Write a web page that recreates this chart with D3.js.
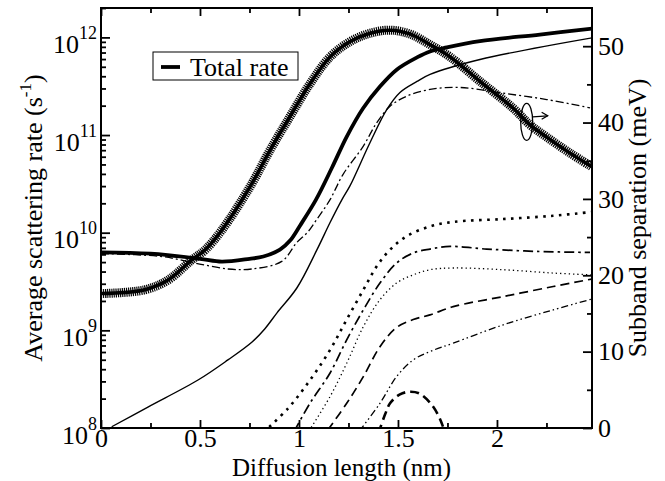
<!DOCTYPE html>
<html>
<head>
<meta charset="utf-8">
<script src="https://cdn.jsdelivr.net/npm/d3@7"></script>
<style>
body{margin:0;background:#fff}
</style>
</head>
<body>
<svg id="drawing_region"></svg>
<script>
const FONT = '"Liberation Serif"'

// axis ticks
const x_ticks = [0, 0.5, 1, 1.5, 2]
const x_minor = [0.25, 0.75, 1.25, 1.75, 2.25]
const rate_ticks = [1e8, 1e9, 1e10, 1e11, 1e12]
const sep_ticks = [0, 10, 20, 30, 40, 50]
const sep_minor = [5, 15, 25, 35, 45]

// total rate (thick solid), s^-1
const total_x = [0, 0.25, 0.5, 0.61, 0.75, 0.82, 0.904, 0.955, 1.005, 1.086, 1.167, 1.242, 1.323, 1.409, 1.495, 1.596, 1.662, 1.747, 1.914, 2.217, 2.48]
const total_rate = [6.3e9, 6.1e9, 5.4e9, 5.05e9, 5.4e9, 5.7e9, 6.7e9, 8.3e9, 1.18e10, 2.18e10, 4.65e10, 9.7e10, 1.87e11, 3.14e11, 4.7e11, 6.24e11, 7.18e11, 7.9e11, 9.16e11, 1.07e12, 1.23e12]

// thin solid
const solid_x = [0.054, 0.237, 0.49, 0.641, 0.763, 0.828, 0.889, 0.99, 1.091, 1.157, 1.217, 1.258, 1.359, 1.444, 1.51, 1.596, 1.662, 1.914, 2.48]
const solid_rate = [1.03e8, 1.64e8, 3.1e8, 4.98e8, 7.6e8, 1.04e9, 1.51e9, 2.73e9, 6.7e9, 1.27e10, 2.18e10, 3.03e10, 8.4e10, 1.83e11, 2.73e11, 3.54e11, 4.18e11, 5.94e11, 9.9e11]

// thin dash-dot
const dashdot_x = [0, 0.307, 0.475, 0.641, 0.761, 0.913, 0.988, 1.045, 1.089, 1.157, 1.222, 1.325, 1.392, 1.46, 1.544, 1.662, 1.813, 2.015, 2.251, 2.47]
const dashdot_rate = [6.1e9, 5.7e9, 4.89e9, 4.25e9, 4.25e9, 5.08e9, 7.9e9, 1.02e10, 1.36e10, 2.18e10, 3.94e10, 7.7e10, 1.33e11, 1.97e11, 2.5e11, 2.93e11, 3.07e11, 2.71e11, 2.31e11, 1.9e11]

// subband separation (crosses), meV
const sep_x = [0, 0.222, 0.34, 0.458, 0.525, 0.61, 0.753, 0.854, 0.955, 1.056, 1.157, 1.258, 1.359, 1.46, 1.56, 1.662, 1.763, 1.914, 2.081, 2.167, 2.251, 2.369, 2.48]
const sep_mev = [17.6, 18.1, 19.4, 22.0, 23.3, 25.9, 31.6, 36.4, 40.8, 45.1, 48.6, 50.6, 51.7, 52.1, 51.6, 50.2, 48.6, 45.4, 41.9, 39.7, 38.1, 36.0, 34.2]

// lower curves
const bigdot_x = [0.82, 0.946, 1.056, 1.157, 1.241, 1.325, 1.392, 1.46, 1.544, 1.662, 1.779, 2.032, 2.284, 2.478]
const bigdot_rate = [9e7, 1.6e8, 3.1e8, 6.3e8, 1.29e9, 2.6e9, 4.5e9, 6.7e9, 9.2e9, 1.16e10, 1.29e10, 1.38e10, 1.49e10, 1.63e10]

const dashdot2_x = [0.975, 1.056, 1.157, 1.241, 1.325, 1.409, 1.493, 1.577, 1.662, 1.763, 1.948, 2.2, 2.47]
const dashdot2_rate = [9.2e7, 1.8e8, 3.66e8, 8.0e8, 1.62e9, 3.05e9, 4.89e9, 6.2e9, 6.8e9, 7.24e9, 6.8e9, 6.43e9, 6.28e9]

const dotted_x = [1.05, 1.157, 1.241, 1.325, 1.409, 1.493, 1.577, 1.662, 1.779, 2.032, 2.284, 2.478]
const dotted_rate = [9.3e7, 2.1e8, 4.6e8, 1.09e9, 2.06e9, 3.05e9, 3.7e9, 4.18e9, 4.35e9, 4.18e9, 3.86e9, 3.7e9]

const dashed_x = [1.145, 1.241, 1.325, 1.409, 1.493, 1.577, 1.662, 1.779, 2.032, 2.284, 2.478]
const dashed_rate = [9.5e7, 1.79e8, 3.36e8, 6.8e8, 1.07e9, 1.29e9, 1.44e9, 1.75e9, 2.22e9, 2.81e9, 3.35e9]

const dashdotdot_x = [1.305, 1.409, 1.493, 1.577, 1.662, 1.779, 2.032, 2.284, 2.478]
const dashdotdot_rate = [9.3e7, 1.79e8, 3.36e8, 4.98e8, 6.07e8, 7.4e8, 1.14e9, 1.62e9, 2.09e9]

const bump_x = [1.40, 1.41, 1.435, 1.46, 1.51, 1.56, 1.611, 1.678, 1.721, 1.735]
const bump_rate = [8.9e7, 1.0e8, 1.38e8, 1.79e8, 2.21e8, 2.35e8, 2.24e8, 1.65e8, 1.12e8, 9.1e7]

class RateChart{
    constructor(config){
        this.config = config
        this.init()
    }

    init(){
        let self = this
        self.svg = d3.select(self.config.parent)
            .attr('width', self.config.width)
            .attr('height', self.config.height)
        self.chart = self.svg.append('g')
            .attr('transform', `translate(${self.config.margin.left},${self.config.margin.top})`)
        self.inner_width = self.config.width - self.config.margin.left - self.config.margin.right
        self.inner_height = self.config.height - self.config.margin.top - self.config.margin.bottom

        self.xscale = d3.scaleLinear().domain([0, 2.48]).range([0, self.inner_width])
        self.yscale = d3.scaleLog().domain([1e8, 2e12]).range([self.inner_height, 0])
        self.rscale = d3.scaleLinear().domain([0, 55]).range([self.inner_height, 0])
    }

    series(){
        const zip = (xs, ys) => xs.map((d, i) => ({x: d, y: ys[i]}))
        return [
            {pts: zip(bigdot_x, bigdot_rate), w: 2.6, dash: '2.6,5.4'},
            {pts: zip(dashdot2_x, dashdot2_rate), w: 1.7, dash: '10,4,2.5,4'},
            {pts: zip(dotted_x, dotted_rate), w: 1.3, dash: '1.3,3'},
            {pts: zip(dashed_x, dashed_rate), w: 1.7, dash: '9,5'},
            {pts: zip(dashdotdot_x, dashdotdot_rate), w: 1.3, dash: '7,3,1.5,3,1.5,3'},
            {pts: zip(bump_x, bump_rate), w: 2.6, dash: '9,5'},
            {pts: zip(solid_x, solid_rate), w: 1.4, dash: null},
            {pts: zip(dashdot_x, dashdot_rate), w: 1.3, dash: '8,3,2,3'},
            {pts: zip(total_x, total_rate), w: 3.8, dash: null}
        ]
    }

    render(){
        let self = this
        const W = self.inner_width, H = self.inner_height

        self.svg.append('defs').append('clipPath').attr('id', 'plotclip')
            .append('rect').attr('width', W).attr('height', H)

        const plot = self.chart.append('g').attr('clip-path', 'url(#plotclip)')
        const line = d3.line()
            .x(d => self.xscale(d.x))
            .y(d => self.yscale(d.y))
            .curve(d3.curveCatmullRom.alpha(0.5))

        self.series().forEach(s => {
            plot.append('path')
                .attr('d', line(s.pts))
                .attr('fill', 'none')
                .attr('stroke', '#000')
                .attr('stroke-width', s.w)
                .attr('stroke-dasharray', s.dash)
        })

        // subband separation with crosses (right axis)
        const sep_pts = sep_x.map((d, i) => ({x: d, y: sep_mev[i]}))
        const sline = d3.line()
            .x(d => self.xscale(d.x))
            .y(d => self.rscale(d.y))
            .curve(d3.curveCatmullRom.alpha(0.5))
        plot.append('path').attr('d', sline(sep_pts))
            .attr('fill', 'none').attr('stroke', '#000')
            .attr('stroke-width', 9).attr('stroke-dasharray', '1.2,0.9')
        plot.append('path').attr('d', sline(sep_pts))
            .attr('fill', 'none').attr('stroke', '#000')
            .attr('stroke-width', 3.5)

        // axes
        const ax = (gen, vals, size, fmt) => gen.tickValues(vals).tickSizeInner(size).tickSizeOuter(0).tickFormat(fmt)
        const tick_style = g => {
            g.select('.domain').remove()
            g.selectAll('line').attr('stroke', '#000').attr('stroke-width', 1.8)
            g.selectAll('text').attr('font-size', 26).attr('fill', '#000')
        }

        self.chart.append('g').attr('transform', `translate(0,${H})`)
            .call(ax(d3.axisBottom(self.xscale), x_ticks, -8, d => d3.format('')(d)).tickPadding(1)).call(tick_style)
        self.chart.append('g').attr('transform', `translate(0,${H})`)
            .call(ax(d3.axisBottom(self.xscale), x_minor, -5, '')).call(tick_style)
        self.chart.append('g')
            .call(ax(d3.axisTop(self.xscale), x_ticks, -8, '')).call(tick_style)
        self.chart.append('g')
            .call(ax(d3.axisTop(self.xscale), x_minor, -5, '')).call(tick_style)

        let log_minor = []
        for(let e = 8; e <= 12; e++){
            for(let k = 2; k <= 9; k++){
                if(k * Math.pow(10, e) <= 2e12) log_minor.push(k * Math.pow(10, e))
            }
        }
        self.chart.append('g')
            .call(ax(d3.axisLeft(self.yscale), rate_ticks, -9, '')).call(tick_style)
        self.chart.append('g')
            .call(ax(d3.axisLeft(self.yscale), log_minor, -5, '')).call(tick_style)

        self.chart.append('g').attr('transform', `translate(${W},0)`)
            .call(ax(d3.axisRight(self.rscale), sep_ticks, -9, d => d).tickPadding(6)).call(tick_style)
        self.chart.append('g').attr('transform', `translate(${W},0)`)
            .call(ax(d3.axisRight(self.rscale), sep_minor, -5, '')).call(tick_style)

        // power-of-ten labels
        const lt = self.chart.append('g').selectAll('text').data(rate_ticks).enter()
            .append('text')
            .attr('x', -4)
            .attr('y', d => self.yscale(d) + 15.5)
            .attr('text-anchor', 'end')
            .attr('font-size', 26)
        lt.append('tspan').text('10')
        lt.append('tspan').attr('font-size', 18).attr('dy', -14).text(d => Math.round(Math.log10(d)))

        // frame
        self.chart.append('rect').attr('width', W).attr('height', H)
            .attr('fill', 'none').attr('stroke', '#000').attr('stroke-width', 2)

        // axis titles
        self.svg.append('text')
            .attr('x', self.config.margin.left + W / 2 - 5).attr('y', 476)
            .attr('text-anchor', 'middle').attr('font-size', 25)
            .text('Diffusion length (nm)')
        const yl = self.svg.append('text')
            .attr('transform', `translate(42,${self.config.margin.top + H / 2}) rotate(-90)`)
            .attr('text-anchor', 'middle').attr('font-size', 26)
        yl.append('tspan').text('Average scattering rate (s')
        yl.append('tspan').attr('font-size', 17).attr('dy', -11).text('-1')
        yl.append('tspan').attr('dy', 11).text(')')
        self.svg.append('text')
            .attr('transform', `translate(646,${self.config.margin.top + H / 2}) rotate(-90)`)
            .attr('text-anchor', 'middle').attr('font-size', 26)
            .text('Subband separation (meV)')

        // legend
        const lg = self.svg.append('g')
        lg.append('rect').attr('x', 153).attr('y', 52).attr('width', 145).attr('height', 28)
            .attr('fill', '#fff').attr('stroke', '#000').attr('stroke-width', 1)
        lg.append('line').attr('x1', 161).attr('x2', 180).attr('y1', 67).attr('y2', 67)
            .attr('stroke', '#000').attr('stroke-width', 3.8)
        lg.append('text').attr('x', 190).attr('y', 76).attr('font-size', 26).text('Total rate')

        // ellipse marking the right-axis curve
        const ex = self.xscale(2.15), ey = self.rscale(40.1)
        self.chart.append('ellipse').attr('cx', ex).attr('cy', ey).attr('rx', 6).attr('ry', 18.5)
            .attr('fill', 'none').attr('stroke', '#000').attr('stroke-width', 1.3)
        self.chart.append('line').attr('x1', ex + 6).attr('y1', ey - 5).attr('x2', ex + 21).attr('y2', ey - 6)
            .attr('stroke', '#000').attr('stroke-width', 1.3)
        self.chart.append('path')
            .attr('d', `M${ex + 15},${ey - 9.5} L${ex + 21},${ey - 6} L${ex + 15},${ey - 2.5}`)
            .attr('fill', 'none').attr('stroke', '#000').attr('stroke-width', 1.3)

        // serif everywhere, as in the original figure
        self.svg.selectAll('text').style('font-family', FONT)
    }
}

const config = {
    parent: '#drawing_region',
    width: 665,
    height: 481,
    margin: {top: 8, right: 73, bottom: 53, left: 101}
}
const chart = new RateChart(config)
chart.render()
</script>
</body>
</html>
